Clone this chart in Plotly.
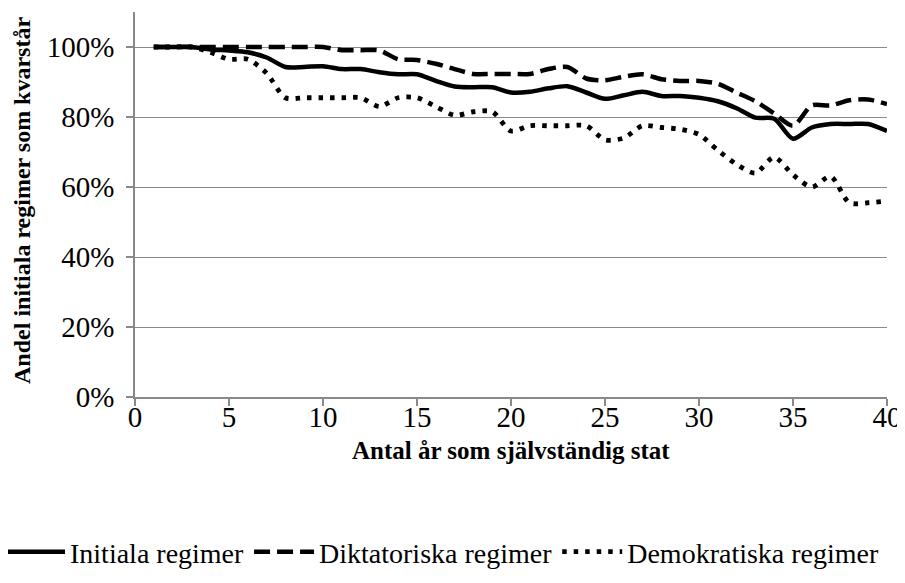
import plotly.graph_objects as go

years = list(range(1, 41))

initiala = [100, 100, 100, 99.3, 99.0, 98.5, 97.0, 94.3, 94.3, 94.5,
            93.7, 93.7, 92.8, 92.2, 92.2, 90.3, 88.7, 88.5, 88.5, 87.0,
            87.2, 88.2, 88.8, 87.0, 85.2, 86.2, 87.2, 86.0, 86.0, 85.5,
            84.5, 82.5, 79.8, 79.5, 73.8, 77.0, 78.0, 78.0, 78.0, 76.0]

diktatoriska = [100, 100, 100, 100, 100, 100, 100, 100, 100, 100,
                99.1, 99.1, 99.0, 96.5, 96.3, 95.2, 93.7, 92.3, 92.3, 92.3,
                92.3, 93.7, 94.3, 91.0, 90.5, 91.5, 92.2, 90.8, 90.3, 90.3,
                89.5, 87.0, 84.5, 81.0, 77.5, 83.3, 83.3, 84.8, 85.0, 83.7]

demokratiska = [100, 100, 100, 98.5, 96.5, 96.5, 92.5, 85.5, 85.5, 85.5,
                85.5, 85.5, 83.0, 85.5, 85.5, 83.0, 80.5, 81.5, 81.5, 76.0,
                77.5, 77.5, 77.5, 77.5, 73.5, 74.0, 77.5, 77.0, 76.5, 75.0,
                70.5, 66.5, 64.0, 68.5, 63.5, 60.0, 63.0, 55.5, 55.5, 56.0]

names = ["Initiala regimer", "Diktatoriska regimer", "Demokratiska regimer"]
x_title = "Antal år som självständig stat"
y_title = "Andel initiala regimer som kvarstår"
x_ticks = [0, 5, 10, 15, 20, 25, 30, 35, 40]
y_ticks = [0, 0.2, 0.4, 0.6, 0.8, 1.0]

serif = "Liberation Serif, Times New Roman, serif"
grey = "#898989"

fig = go.Figure()
fig.add_trace(go.Scatter(
    x=years, y=[v / 100 for v in initiala], name=names[0], mode="lines",
    line=dict(color="black", width=4.5, shape="spline", smoothing=0.8)))
fig.add_trace(go.Scatter(
    x=years, y=[v / 100 for v in diktatoriska], name=names[1], mode="lines",
    line=dict(color="black", width=4.5, dash="16px,7px", shape="spline", smoothing=0.8)))
fig.add_trace(go.Scatter(
    x=years, y=[v / 100 for v in demokratiska], name=names[2], mode="lines",
    line=dict(color="black", width=4.8, dash="4.5px,7px", shape="spline", smoothing=0.8)))

# the page body adds an 8 px offset, so the figure is 8 px smaller than the window
fig.update_layout(
    width=897, height=575,
    margin=dict(l=127, r=18, t=4, b=186, autoexpand=False),
    paper_bgcolor="white", plot_bgcolor="white",
    font=dict(family=serif, color="black", size=28),
    showlegend=True,
    legend=dict(orientation="h", x=-0.1795, xanchor="left", y=-0.4026, yanchor="middle",
                font=dict(family=serif, size=28, color="black"),
                itemwidth=60, tracegroupgap=0, bgcolor="rgba(0,0,0,0)"),
    annotations=[
        dict(text="<b>" + x_title + "</b>", xref="paper", yref="paper",
             x=0.5, y=-0.1377, xanchor="center", yanchor="middle", showarrow=False,
             font=dict(family=serif, size=25, color="black")),
        dict(text="<b>" + y_title + "</b>", xref="paper", yref="paper",
             x=-0.1503, y=0.5117, xanchor="center", yanchor="middle", showarrow=False,
             textangle=-90, font=dict(family=serif, size=24, color="black")),
    ],
)
fig.update_xaxes(
    range=[0, 40], tickvals=x_ticks, ticktext=[str(t) for t in x_ticks],
    showgrid=False, zeroline=False, automargin=False,
    showline=True, linecolor=grey, linewidth=1.5,
    ticks="outside", ticklen=7, tickwidth=1.5, tickcolor=grey,
    ticklabelstandoff=-14,
    tickfont=dict(family=serif, size=29, color="black"),
)
fig.update_yaxes(
    range=[0, 1.1], tickvals=y_ticks, tickformat=".0%",
    showgrid=True, gridcolor=grey, gridwidth=1.3, zeroline=False, automargin=False,
    showline=True, linecolor=grey, linewidth=1.5,
    ticks="outside", ticklen=7, tickwidth=1.5, tickcolor=grey,
    ticklabelstandoff=6,
    tickfont=dict(family=serif, size=29, color="black"),
)

fig.write_html("out.html")
